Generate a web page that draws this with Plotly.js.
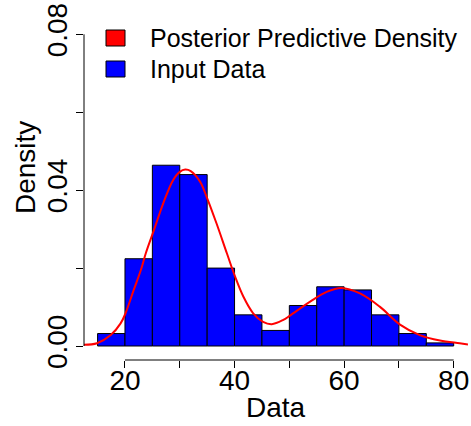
<!DOCTYPE html>
<html>
<head>
<meta charset="utf-8">
<script src="https://cdn.plot.ly/plotly-3.0.1.min.js"></script>
<style>html,body{margin:0;padding:0;background:#fff;}#chart{width:471px;height:426px;}</style>
</head>
<body>
<div id="chart"></div>
<script>
// Histogram bins (centres, width 5) and densities
var binCentres = [17.5, 22.5, 27.5, 32.5, 37.5, 42.5, 47.5, 52.5, 57.5, 62.5, 67.5, 72.5, 77.5];
var binDensity = [0.0032, 0.0224, 0.0464, 0.0440, 0.0200, 0.0080, 0.0040, 0.0104, 0.0152, 0.0144, 0.0080, 0.0032, 0.0008];

// Posterior predictive density curve
var curveX = [12.5, 14.9, 17.4, 19.2, 20.1, 21.6, 22.9, 23.8, 25.3, 27.0, 28.8, 30.0, 31.0, 32.0, 33.7, 34.9, 36.7, 38.6, 40.1, 41.6, 43.4, 45.2, 46.8, 48.9, 50.1, 53.8, 56.8, 59.5, 62.9, 66.5, 70.2, 73.8, 77.5, 81.1, 82.6];
var curveY = [0.0003, 0.0007, 0.0028, 0.0058, 0.0084, 0.0144, 0.0195, 0.0238, 0.0298, 0.0367, 0.0426, 0.0447, 0.0453, 0.0449, 0.0422, 0.0383, 0.0315, 0.0238, 0.0178, 0.0127, 0.0084, 0.0062, 0.0056, 0.0067, 0.0078, 0.0114, 0.0139, 0.0149, 0.0135, 0.0101, 0.0055, 0.0028, 0.0014, 0.0007, 0.0004];

var xTickVals = [20, 30, 40, 50, 60, 70, 80];
var xTickText = ['20', '', '40', '', '60', '', '80'];
var yTickVals = [0, 0.02, 0.04, 0.06, 0.08];
var yTickText = ['0.00', '', '0.04', '', '0.08'];

var legendNames = ['Posterior Predictive Density', 'Input Data'];
var legendColors = ['#ff0000', '#0000ff'];

var FONT = '"Liberation Sans", Arial, Helvetica, sans-serif';

var traces = [
  {
    type: 'bar',
    x: binCentres,
    y: binDensity,
    width: 5,
    marker: {color: '#0000ff', line: {color: '#000000', width: 1}},
    name: legendNames[1],
    showlegend: false,
    hoverinfo: 'x+y'
  },
  {
    type: 'scatter',
    mode: 'lines',
    x: curveX,
    y: curveY,
    line: {color: '#ff0000', width: 2, shape: 'spline', smoothing: 1},
    name: legendNames[0],
    showlegend: false
  }
];

// pixel -> paper helpers for layout decorations
var L = 84, R = 3, T = 22, B = 66, W = 471, H = 426;
var pw = W - L - R, ph = H - T - B;
function px(x) { return (x - L) / pw; }
function py(y) { return (H - B - y) / ph; }

var shapes = [
  // y axis line from 0 to 0.08
  {type: 'line', xref: 'paper', yref: 'y', x0: 0, x1: 0, y0: 0, y1: 0.08, line: {color: '#000', width: 1}},
  // x axis line from 20 to 80
  {type: 'line', xref: 'x', yref: 'paper', x0: 20, x1: 80, y0: 0, y1: 0, line: {color: '#000', width: 1}}
];
var annotations = [
  {xref: 'paper', yref: 'paper', x: px(25), y: py(168), text: 'Density', showarrow: false,
   textangle: -90, xanchor: 'center', yanchor: 'middle', font: {family: FONT, size: 28, color: '#000'}},
  {xref: 'paper', yref: 'paper', x: px(276), y: py(407), text: 'Data', showarrow: false,
   xanchor: 'center', yanchor: 'middle', font: {family: FONT, size: 28, color: '#000'}}
];
var rowY = [38, 69];
for (var i = 0; i < legendNames.length; i++) {
  shapes.push({type: 'rect', xref: 'paper', yref: 'paper',
    x0: px(106), x1: px(125), y0: py(rowY[i] - 8), y1: py(rowY[i] + 8),
    fillcolor: legendColors[i], line: {color: '#000', width: 1}});
  annotations.push({xref: 'paper', yref: 'paper', x: px(148), y: py(rowY[i]), text: legendNames[i],
    showarrow: false, xanchor: 'left', yanchor: 'middle', font: {family: FONT, size: 25, color: '#000'}});
}

var layout = {
  width: W, height: H,
  margin: {l: L, r: R, t: T, b: B, pad: 0},
  paper_bgcolor: '#ffffff', plot_bgcolor: '#ffffff',
  font: {family: FONT, color: '#000'},
  showlegend: false,
  bargap: 0,
  xaxis: {
    range: [12.52, 82.61],
    tickmode: 'array', tickvals: xTickVals, ticktext: xTickText,
    ticks: 'outside', ticklen: 7, tickwidth: 1, tickcolor: '#000',
    ticklabelstandoff: -12,
    showline: false, showgrid: false, zeroline: false,
    tickfont: {family: FONT, size: 28, color: '#000'},
    automargin: false
  },
  yaxis: {
    range: [-0.00359, 0.08316],
    tickmode: 'array', tickvals: yTickVals, ticktext: yTickText,
    ticks: 'outside', ticklen: 7, tickwidth: 1, tickcolor: '#000',
    tickangle: -90,
    ticklabelstandoff: -2,
    showline: false, showgrid: false, zeroline: false,
    tickfont: {family: FONT, size: 28, color: '#000'},
    automargin: false
  },
  shapes: shapes,
  annotations: annotations
};

Plotly.newPlot('chart', traces, layout, {displayModeBar: false, staticPlot: true});
</script>
</body>
</html>
